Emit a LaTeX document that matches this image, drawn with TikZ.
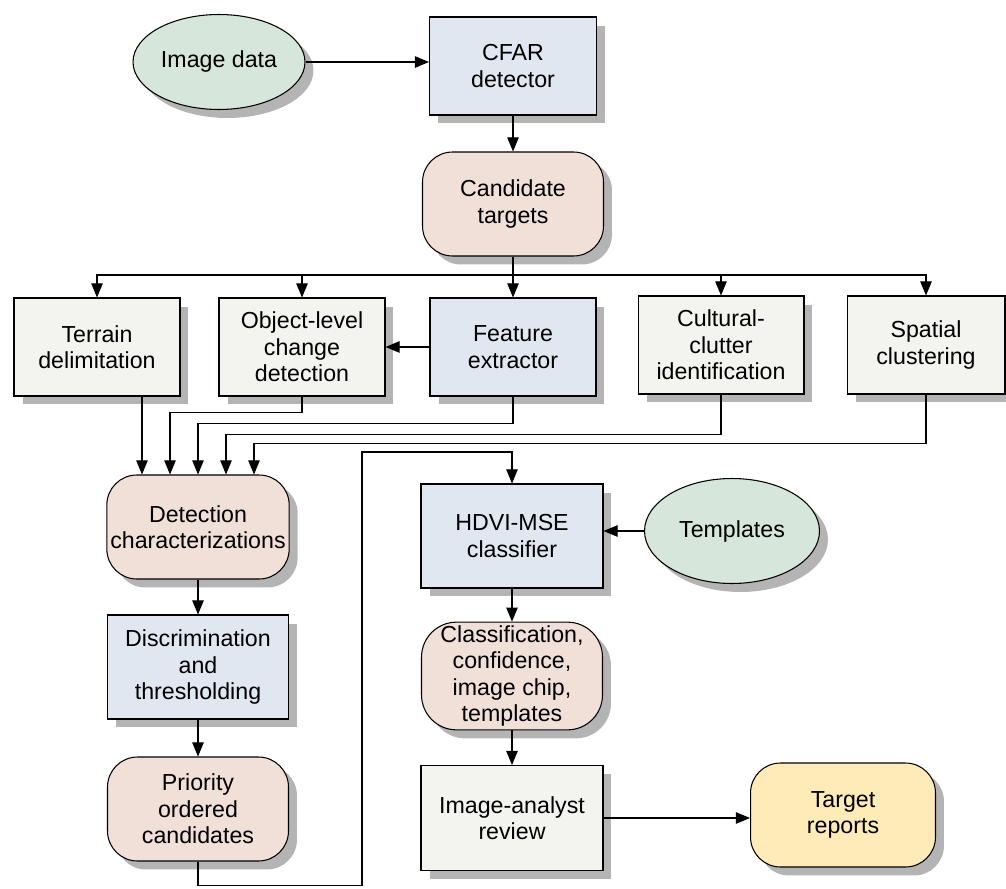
\documentclass[tikz,border=0pt]{standalone}
\usepackage{fontspec}
\setmainfont{Liberation Sans}
\usetikzlibrary{arrows.meta,positioning,calc,shapes.geometric,shadows}
\definecolor{srcfill}{HTML}{D6E6DB}
\definecolor{procfill}{HTML}{E1E7F1}
\definecolor{datafill}{HTML}{F0E0D8}
\definecolor{stepfill}{HTML}{F3F4EF}
\definecolor{outfill}{HTML}{FEEBB8}
\definecolor{shadowgray}{HTML}{B4B4B4}

\begin{document}
\begin{tikzpicture}[x=0.02cm,y=-0.02cm,font=\fontsize{13.2}{15}\selectfont,
  >={Triangle[length=8pt,width=6.5pt]},
  boxshadow/.style={drop shadow={shadow xshift=0.17cm,shadow yshift=-0.17cm,
                    fill=shadowgray,opacity=1}},
  box/.style={draw=black,line width=0.6pt,align=center,inner sep=2pt,boxshadow},
  proc/.style={box,fill=procfill,minimum width=3.34cm,minimum height=1.96cm},
  stepbox/.style={box,fill=stepfill,minimum width=3.32cm,minimum height=1.96cm},
  datum/.style={box,fill=datafill,rounded corners=0.6cm,minimum width=3.62cm,minimum height=2.08cm},
  src/.style={box,ellipse,fill=srcfill,inner sep=0pt},
  outp/.style={box,fill=outfill,rounded corners=0.6cm,minimum width=3.7cm,minimum height=2.08cm},
  link/.style={->,line width=0.6pt}]

\useasboundingbox (0,0) rectangle (1006,888);

% top chain
\node[src,minimum width=3.44cm,minimum height=1.9cm] (img) at (219,62) {Image data};
\node[proc] (cfar) at (513,66) {CFAR\\detector};
\node[datum] (cand) at (513,204) {Candidate\\targets};

% row of processing steps
\node[stepbox] (terr) at (97,347) {Terrain\\delimitation};
\node[stepbox] (obj) at (302,347) {Object-level\\change\\detection};
\node[proc,minimum width=3.32cm] (feat) at (513,347) {Feature\\extractor};
\node[stepbox] (cult) at (721,345) {Cultural-\\clutter\\identification};
\node[stepbox,minimum width=3.16cm] (spat) at (926,345) {Spatial\\clustering};

% left column
\node[datum] (det) at (198,527) {Detection\\characterizations};
\node[proc,minimum width=3.62cm,minimum height=2.08cm] (disc) at (198,667) {Discrimination\\and\\thresholding};
\node[datum] (prio) at (198,809) {Priority\\ordered\\candidates};

% right column
\node[proc,minimum width=3.64cm,minimum height=2.08cm] (hdvi) at (512,536) {HDVI-MSE\\classifier};
\node[src,minimum width=3.5cm,minimum height=2.1cm] (tmpl) at (732,531) {Templates};
\node[datum,minimum height=2.12cm,rounded corners=0.7cm] (cls) at (512,676) {Classification,\\confidence,\\image chip,\\templates};
\node[stepbox,minimum width=3.64cm,minimum height=2.1cm] (rev) at (512,818) {Image-analyst\\review};
\node[outp] (tgt) at (843,815) {Target\\reports};

% inputs on top of detection characterizations
\coordinate (in1) at ($(det.north)+(-56,0)$);
\coordinate (in2) at ($(det.north)+(-28,0)$);
\coordinate (in3) at (det.north);
\coordinate (in4) at ($(det.north)+(28,0)$);
\coordinate (in5) at ($(det.north)+(56,0)$);
\coordinate (bus) at (513,275);
\coordinate (loop) at (362,452);

\draw[link] (img.east) -- (img.east -| cfar.west);
\draw[link] (cfar) -- (cand);
\draw[line width=0.6pt] (cand) -- (bus);
\draw[link] (bus) -- (feat);
\draw[link] (bus) -| (terr);
\draw[link] (bus) -| (obj);
\draw[link] (bus) -| (cult);
\draw[link] (bus) -| (spat);
\draw[link] (feat.west) -- (feat.west -| obj.east);

\draw[link] (terr.south -| in1) -- (in1);
\draw[link] (obj.south) -- ++(0,16) -| (in2);
\draw[link] (feat.south) -- ++(0,27) -| (in3);
\draw[link] (cult.south) -- ++(0,40) -| (in4);
\draw[link] (spat.south) -- ++(0,49) -| (in5);

\draw[link] (det) -- (disc);
\draw[link] (disc) -- (prio);
\draw[link] (prio.south) -- ++(0,24) -| (loop) -| (hdvi.north);

\draw[link] (tmpl.west) -- (tmpl.west -| hdvi.east);
\draw[link] (hdvi) -- (cls);
\draw[link] (cls) -- (rev);
\draw[link] (rev.east) -- (rev.east -| tgt.west);
\end{tikzpicture}
\end{document}
